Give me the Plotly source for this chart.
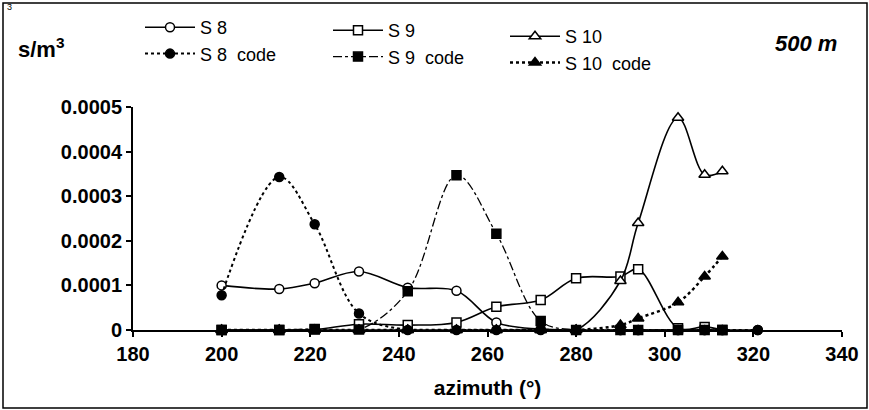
import plotly.graph_objects as go

azimuth = [200, 213, 221, 231, 242, 253, 262, 272, 280, 290, 294, 303, 309, 313, 321]
s8 = [1.00e-4, 0.92e-4, 1.05e-4, 1.31e-4, 0.95e-4, 0.88e-4, 0.17e-4, 0.02e-4, 0, 0, 0, 0, 0, 0, 0]
s9 = [0, 0, 0.01e-4, 0.13e-4, 0.11e-4, 0.17e-4, 0.52e-4, 0.67e-4, 1.16e-4, 1.20e-4, 1.36e-4, 0.04e-4, 0.07e-4, 0, None]
s10 = [0, 0, 0, 0, 0, 0, 0, 0, 0, 1.10e-4, 2.40e-4, 4.76e-4, 3.48e-4, 3.56e-4, None]
s8_code = [0.78e-4, 3.43e-4, 2.37e-4, 0.37e-4, 0, 0, 0, 0, 0, 0, 0, 0, 0, 0, 0]
s9_code = [0, 0, 0.02e-4, 0.01e-4, 0.87e-4, 3.47e-4, 2.16e-4, 0.20e-4, 0, 0, 0, 0, 0, 0, None]
s10_code = [0, 0, 0, 0, 0, 0, 0, 0, 0, 0.11e-4, 0.26e-4, 0.62e-4, 1.20e-4, 1.65e-4, None]

y_ticks = [0, 0.0001, 0.0002, 0.0003, 0.0004, 0.0005]
y_tick_labels = ["0", "0.0001", "0.0002", "0.0003", "0.0004", "0.0005"]
x_ticks = [180, 200, 220, 240, 260, 280, 300, 320, 340]

W, H = 869, 410
L, R, T, B = 133, 27, 107, 80
pw, ph = W - L - R, H - T - B

def px(x):
    return (x - L) / pw

def py(y):
    return (H - B - y) / ph

FONT = "Liberation Sans, Arial, sans-serif"
fig = go.Figure()

def add(name, y, symbol, fill, dash, width, size, legend):
    fig.add_trace(go.Scatter(
        x=azimuth, y=y, name=name, mode="lines+markers",
        line=dict(color="black", width=width, dash=dash, shape="spline", smoothing=1),
        marker=dict(symbol=symbol, size=size, color=fill, line=dict(color="black", width=1.5)),
        cliponaxis=False, legend=legend, connectgaps=False,
    ))

add("S 8", s8, "circle", "white", "solid", 1.6, 9, "legend")
add("S 9", s9, "square", "white", "solid", 1.6, 9, "legend2")
add("S 10", s10, "triangle-up", "white", "solid", 1.6, 10, "legend3")
add("S 8\u00a0 code", s8_code, "circle", "black", "dot", 2, 9, "legend")
add("S 9\u00a0 code", s9_code, "square", "black", "dashdot", 1.3, 9, "legend2")
add("S 10\u00a0 code", s10_code, "triangle-up", "black", "dot", 2.5, 10, "legend3")

leg_common = dict(font=dict(family=FONT, size=18, color="black"), bgcolor="rgba(0,0,0,0)",
                  orientation="v", xanchor="left", yanchor="top", tracegroupgap=0,
                  itemwidth=50)

fig.update_layout(
    width=W, height=H,
    margin=dict(l=L, r=R, t=T, b=B, autoexpand=False),
    paper_bgcolor="white", plot_bgcolor="white",
    font=dict(family=FONT, color="black"),
    legend=dict(x=px(140), y=py(9), **leg_common),
    legend2=dict(x=px(328), y=py(12), **leg_common),
    legend3=dict(x=px(505), y=py(18), **leg_common),
    xaxis=dict(range=[180, 340], tickvals=x_ticks, showgrid=False, zeroline=False,
               showline=True, linecolor="black", linewidth=2, ticks="outside", ticklen=5,
               tickwidth=2, tickcolor="black",
               tickfont=dict(family=FONT, size=20, color="black", weight="bold"),
               title=dict(text="<b>azimuth (°)</b>", font=dict(family=FONT, size=21), standoff=16)),
    yaxis=dict(range=[0, 0.0005], tickvals=y_ticks, ticktext=y_tick_labels, showgrid=False,
               zeroline=False, showline=True, linecolor="black", linewidth=2, ticks="outside",
               ticklen=5, tickwidth=2, tickcolor="black",
               tickfont=dict(family=FONT, size=20, color="black", weight="bold")),
    showlegend=True,
)

fig.add_shape(type="rect", xref="paper", yref="paper",
              x0=px(3), x1=px(867), y0=py(408), y1=py(3),
              line=dict(color="black", width=1.5), layer="below")

fig.add_annotation(text="<b>s/m<sup>3</sup></b>", xref="paper", yref="paper",
                   x=px(16), y=py(48), xanchor="left", yanchor="middle", showarrow=False,
                   font=dict(family=FONT, size=22, color="black"))
fig.add_annotation(text="<b><i>500 m</i></b>", xref="paper", yref="paper",
                   x=px(839), y=py(43), xanchor="right", yanchor="middle", showarrow=False,
                   font=dict(family=FONT, size=22, color="black"))
fig.add_annotation(text="3", xref="paper", yref="paper",
                   x=px(5), y=py(7), xanchor="left", yanchor="middle", showarrow=False,
                   font=dict(family=FONT, size=9, color="black"))

fig.write_html("out.html")
